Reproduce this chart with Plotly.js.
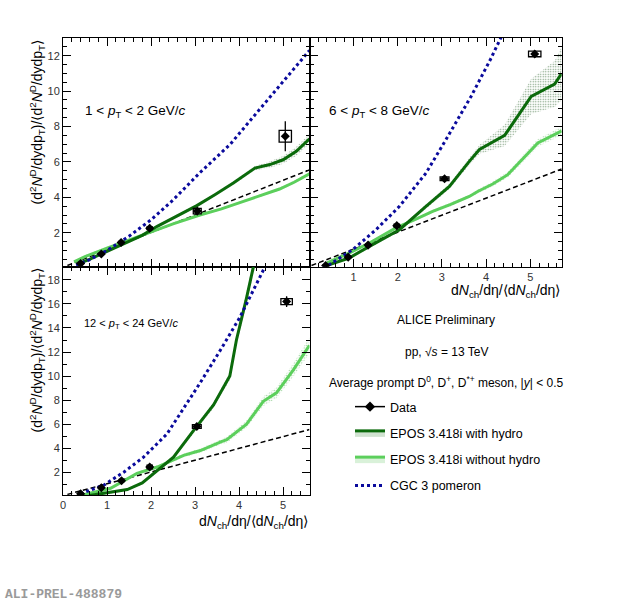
<!DOCTYPE html>
<html>
<head>
<meta charset="utf-8">
<script src="https://cdn.plot.ly/plotly-3.0.1.min.js"></script>
<style>html,body{margin:0;padding:0;background:#fff;}#chart{width:620px;height:605px;}</style>
</head>
<body>
<div id="chart"></div>
<script>
// ---------- Panel 1: 1 < pT < 2 GeV/c ----------
const p1DataX = [0.4, 0.87, 1.32, 1.97, 3.05, 5.05];
const p1DataY = [0.26, 0.8, 1.45, 2.25, 3.22, 7.45];
const p1Stat  = [0.05, 0.08, 0.1, 0.18, 0.12, 0.85];
const p1SysX  = [0.05, 0.05, 0.05, 0.06, 0.09, 0.14];
const p1SysY  = [0.04, 0.05, 0.06, 0.08, 0.16, 0.33];
const p1HydroX = [0.3, 0.6, 1.0, 1.4, 1.8, 2.14, 2.6, 3.04, 3.45, 3.87, 4.36, 4.7, 5.0, 5.3, 5.6];
const p1HydroY = [0.2, 0.5, 0.95, 1.4, 1.85, 2.36, 2.95, 3.53, 4.15, 4.81, 5.65, 5.85, 6.12, 6.6, 7.3];
const p1HydroE = [0.04, 0.05, 0.05, 0.06, 0.06, 0.07, 0.07, 0.08, 0.08, 0.1, 0.12, 0.18, 0.22, 0.25, 0.28];
const p1NoHX = [0.25, 0.5, 1.0, 1.5, 1.98, 2.5, 3.11, 3.6, 4.1, 4.5, 4.92, 5.25, 5.6];
const p1NoHY = [0.35, 0.65, 1.13, 1.58, 2.0, 2.5, 3.0, 3.35, 3.77, 4.1, 4.47, 4.85, 5.33];
const p1NoHE = [0.08, 0.08, 0.07, 0.06, 0.05, 0.05, 0.05, 0.06, 0.06, 0.07, 0.08, 0.08, 0.09];
const p1CgcX = [0.3, 0.6, 1.0, 1.5, 2.0, 2.5, 3.11, 3.8, 4.62, 5.1, 5.6];
const p1CgcY = [0.17, 0.47, 1.0, 1.8, 2.73, 3.85, 5.39, 7.0, 9.42, 10.8, 12.3];
const p1LinX = [0.1, 5.6];
const p1LinY = [0.15, 5.55];

// ---------- Panel 2: 6 < pT < 8 GeV/c ----------
const p2DataX = [0.37, 0.88, 1.33, 1.98, 3.06, 5.1];
const p2DataY = [0.15, 0.62, 1.3, 2.4, 5.05, 12.1];
const p2Stat  = [0.05, 0.08, 0.1, 0.2, 0.15, 0.2];
const p2SysX  = [0.05, 0.05, 0.05, 0.06, 0.1, 0.14];
const p2SysY  = [0.04, 0.05, 0.06, 0.08, 0.1, 0.16];
const p2HydroX = [0.34, 0.9, 1.36, 2.04, 2.64, 3.17, 3.62, 3.85, 4.42, 5.02, 5.55, 5.71];
const p2HydroY = [0.1, 0.57, 1.23, 2.17, 3.49, 4.62, 6.03, 6.7, 7.5, 9.7, 10.4, 11.0];
const p2HydroE = [0.05, 0.08, 0.1, 0.1, 0.12, 0.15, 0.2, 0.25, 0.6, 1.0, 1.3, 1.5];
const p2NoHX = [0.4, 0.9, 1.36, 1.96, 2.4, 2.79, 3.2, 3.62, 3.81, 4.15, 4.49, 4.8, 5.17, 5.71];
const p2NoHY = [0.3, 0.85, 1.42, 2.27, 2.75, 3.2, 3.6, 4.05, 4.33, 4.75, 5.28, 6.1, 7.07, 7.75];
const p2NoHE = [0.05, 0.06, 0.07, 0.08, 0.08, 0.09, 0.1, 0.1, 0.12, 0.14, 0.16, 0.2, 0.22, 0.25];
const p2CgcX = [0.3, 0.45, 0.98, 1.51, 2.04, 2.64, 3.09, 3.66, 4.1, 4.6];
const p2CgcY = [0.12, 0.19, 1.04, 2.17, 3.49, 5.37, 7.25, 9.7, 11.8, 14.4];
const p2LinX = [0.05, 5.71];
const p2LinY = [0.15, 5.6];

// ---------- Panel 3: 12 < pT < 24 GeV/c ----------
const p3DataX = [0.4, 0.87, 1.33, 1.97, 3.04, 5.08];
const p3DataY = [0.2, 0.7, 1.29, 2.43, 5.8, 16.2];
const p3Stat  = [0.05, 0.1, 0.15, 0.25, 0.3, 0.45];
const p3SysX  = [0.05, 0.05, 0.05, 0.06, 0.1, 0.13];
const p3SysY  = [0.05, 0.06, 0.1, 0.15, 0.15, 0.25];
const p3HydroX = [0.6, 1.08, 1.46, 1.8, 2.06, 2.51, 2.96, 3.42, 3.79, 3.94, 4.17, 4.35];
const p3HydroY = [0.05, 0.3, 0.55, 1.1, 1.9, 3.25, 5.44, 7.6, 10.0, 13.0, 16.5, 19.5];
const p3HydroE = [0.05, 0.08, 0.1, 0.12, 0.15, 0.15, 0.2, 0.25, 0.3, 0.4, 0.5, 0.6];
const p3NoHX = [0.45, 1.08, 1.68, 2.14, 2.74, 3.12, 3.6, 3.72, 4.17, 4.55, 4.85, 5.23, 5.6];
const p3NoHY = [0.1, 0.66, 1.9, 2.43, 3.4, 3.8, 4.55, 4.7, 6.0, 7.9, 8.6, 10.5, 12.55];
const p3NoHE = [0.05, 0.08, 0.1, 0.12, 0.15, 0.18, 0.22, 0.25, 0.3, 0.4, 0.45, 0.55, 0.65];
const p3CgcX = [0.4, 0.93, 1.38, 1.83, 2.36, 2.82, 3.11, 3.6, 4.02, 4.59, 4.8];
const p3CgcY = [0.2, 0.93, 2.0, 3.25, 5.17, 7.76, 9.4, 12.3, 14.9, 19.1, 20.5];
const p3LinX = [0.1, 5.6];
const p3LinY = [0.15, 5.55];

// ---------- Labels ----------
const yTitle = '(d<sup>2</sup><i>N</i><sup>D</sup>/dydp<sub>T</sub>)/⟨d<sup>2</sup><i>N</i><sup>D</sup>/dydp<sub>T</sub>⟩';
const xTitle = 'd<i>N</i><sub>ch</sub>/dη/⟨d<i>N</i><sub>ch</sub>/dη⟩';
const panelLabels = ['1 < <i>p</i><sub>T</sub> < 2 GeV/<i>c</i>', '6 < <i>p</i><sub>T</sub> < 8 GeV/<i>c</i>', '12 < <i>p</i><sub>T</sub> < 24 GeV/<i>c</i>'];
const legendNames = ['Data', 'EPOS 3.418i with hydro', 'EPOS 3.418i without hydro', 'CGC 3 pomeron'];
const infoLines = ['ALICE Preliminary', 'pp, √<i>s</i> = 13 TeV', 'Average prompt D<sup>0</sup>, D<sup>+</sup>, D<sup>*+</sup> meson, |<i>y</i>| < 0.5'];
const prelimTag = 'ALI-PREL-488879';

// ---------- Styles ----------
const FONT = 'Liberation Sans, Arial, Helvetica, sans-serif';
const DARK = '#0b6a0b';
const LIGHT = '#5ccf5c';
const BLUE = '#0a0a9c';
const W = 620, H = 605;
const px = v => v / W;
const py = v => 1 - v / H;

function band(x, y, e, xa, ya, fg) {
  const bx = x.concat(x.slice().reverse());
  const by = x.map((_, i) => y[i] + e[i]).concat(x.map((_, i) => y[i] - e[i]).reverse());
  return {x: bx, y: by, xaxis: xa, yaxis: ya, mode: 'lines', line: {width: 0}, fill: 'toself',
    fillcolor: 'rgba(0,0,0,0)', fillpattern: {shape: '.', fgcolor: fg, bgcolor: 'rgba(255,255,255,0)', size: 2.5, solidity: 0.25},
    showlegend: false, hoverinfo: 'skip'};
}
function line(x, y, xa, ya, color, width, dash) {
  return {x: x, y: y, xaxis: xa, yaxis: ya, mode: 'lines', line: {color: color, width: width, dash: dash || 'solid'}, showlegend: false, hoverinfo: 'skip'};
}
function data(x, y, e, xa, ya) {
  return {x: x, y: y, xaxis: xa, yaxis: ya, mode: 'markers', marker: {symbol: 'diamond', color: '#000', size: 7},
    error_y: {type: 'data', array: e, color: '#000', thickness: 1.3, width: 0}, showlegend: false, hoverinfo: 'skip'};
}
function panel(xa, ya, d) {
  return [
    band(d.hx, d.hy, d.he, xa, ya, 'rgba(60,110,60,0.7)'),
    band(d.nx, d.ny, d.ne, xa, ya, 'rgba(110,190,110,0.7)'),
    line(d.lx, d.ly, xa, ya, '#000', 1.5, '5px,3px'),
    line(d.nx, d.ny, xa, ya, LIGHT, 3),
    line(d.hx, d.hy, xa, ya, DARK, 3),
    line(d.cx, d.cy, xa, ya, BLUE, 3, 'dot'),
    data(d.dx, d.dy, d.de, xa, ya)
  ];
}
function boxes(x, y, sx, sy, xr, yr) {
  return x.map((v, i) => ({type: 'rect', xref: xr, yref: yr, x0: v - sx[i], x1: v + sx[i], y0: y[i] - sy[i], y1: y[i] + sy[i],
    line: {color: '#000', width: 1.3}, fillcolor: 'rgba(0,0,0,0)', layer: 'above'}));
}

const traces = [].concat(
  panel('x', 'y', {hx: p1HydroX, hy: p1HydroY, he: p1HydroE, nx: p1NoHX, ny: p1NoHY, ne: p1NoHE, cx: p1CgcX, cy: p1CgcY, lx: p1LinX, ly: p1LinY, dx: p1DataX, dy: p1DataY, de: p1Stat}),
  panel('x2', 'y2', {hx: p2HydroX, hy: p2HydroY, he: p2HydroE, nx: p2NoHX, ny: p2NoHY, ne: p2NoHE, cx: p2CgcX, cy: p2CgcY, lx: p2LinX, ly: p2LinY, dx: p2DataX, dy: p2DataY, de: p2Stat}),
  panel('x3', 'y3', {hx: p3HydroX, hy: p3HydroY, he: p3HydroE, nx: p3NoHX, ny: p3NoHY, ne: p3NoHE, cx: p3CgcX, cy: p3CgcY, lx: p3LinX, ly: p3LinY, dx: p3DataX, dy: p3DataY, de: p3Stat})
);

// legend entries
traces.push({x: [null], y: [null], name: legendNames[0], legendgroup: 'a', mode: 'lines+markers', line: {color: '#000', width: 1.5}, marker: {symbol: 'diamond', color: '#000', size: 8}});
traces.push({x: [null], y: [null], name: legendNames[1], legendgroup: 'b', mode: 'lines', line: {color: DARK, width: 3}, fill: 'toself', fillcolor: 'rgba(150,190,150,0.45)'});
traces.push({x: [null], y: [null], name: legendNames[2], legendgroup: 'c', mode: 'lines', line: {color: LIGHT, width: 3}, fill: 'toself', fillcolor: 'rgba(170,225,170,0.45)'});
traces.push({x: [null], y: [null], name: legendNames[3], legendgroup: 'd', mode: 'lines', line: {color: BLUE, width: 3, dash: 'dot'}});

const tickFont = {family: FONT, size: 11, color: '#333'};
function axis(extra) {
  return Object.assign({
    showline: true, linecolor: '#000', linewidth: 1, mirror: 'ticks', ticks: 'inside', ticklen: 8, tickcolor: '#000',
    tickwidth: 1, showgrid: false, zeroline: false, tickfont: tickFont, fixedrange: true
  }, extra);
}

const xDomL = [px(63), px(309.5)];
const xDomR = [px(309.5), px(561.7)];
const yDomT = [py(266.7), py(38)];
const yDomB = [py(495), py(266.7)];

const layout = {
  width: W, height: H,
  margin: {l: 0, r: 0, t: 0, b: 0},
  paper_bgcolor: '#fff', plot_bgcolor: '#fff',
  font: {family: FONT, color: '#000'},
  xaxis: axis({domain: xDomL, range: [0, 5.6], anchor: 'y', dtick: 1, showticklabels: false, minor: {dtick: 0.2, ticklen: 4, tickcolor: '#000', ticks: 'inside'}}),
  yaxis: axis({domain: yDomT, range: [0.08, 13.0], anchor: 'x', dtick: 2, tick0: 0, minor: {dtick: 0.5, ticklen: 4, tickcolor: '#000', ticks: 'inside'}}),
  xaxis2: axis({domain: xDomR, range: [0.005, 5.71], anchor: 'y2', dtick: 1, minor: {dtick: 0.2, tick0: 0, ticklen: 4, tickcolor: '#000', ticks: 'inside'}}),
  yaxis2: axis({domain: yDomT, range: [0.08, 13.0], anchor: 'x2', dtick: 2, tick0: 0, showticklabels: false, minor: {dtick: 0.5, ticklen: 4, tickcolor: '#000', ticks: 'inside'}}),
  xaxis3: axis({domain: xDomL, range: [0, 5.6], anchor: 'y3', dtick: 1, minor: {dtick: 0.2, ticklen: 4, tickcolor: '#000', ticks: 'inside'}}),
  yaxis3: axis({domain: yDomB, range: [0.1, 19.1], anchor: 'x3', dtick: 2, tick0: 0, minor: {dtick: 1, ticklen: 4, tickcolor: '#000', ticks: 'inside'}}),
  showlegend: true,
  legend: {x: px(350), y: py(392), xanchor: 'left', yanchor: 'top', bgcolor: 'rgba(0,0,0,0)', borderwidth: 0,
    font: {family: FONT, size: 12.5, color: '#000'}, traceorder: 'grouped', tracegroupgap: 7, itemwidth: 30},
  shapes: [].concat(
    boxes(p1DataX, p1DataY, p1SysX, p1SysY, 'x', 'y'),
    boxes(p2DataX, p2DataY, p2SysX, p2SysY, 'x2', 'y2'),
    boxes(p3DataX, p3DataY, p3SysX, p3SysY, 'x3', 'y3')
  ),
  annotations: [
    {text: yTitle, xref: 'paper', yref: 'paper', x: px(37), y: py(38), xanchor: 'center', yanchor: 'top', textangle: -90, showarrow: false, font: {size: 14}},
    {text: yTitle, xref: 'paper', yref: 'paper', x: px(37), y: py(266), xanchor: 'center', yanchor: 'top', textangle: -90, showarrow: false, font: {size: 14}},
    {text: xTitle, xref: 'paper', yref: 'paper', x: px(561.7), y: py(291), xanchor: 'right', yanchor: 'middle', showarrow: false, font: {size: 14}},
    {text: xTitle, xref: 'paper', yref: 'paper', x: px(310), y: py(522), xanchor: 'right', yanchor: 'middle', showarrow: false, font: {size: 14}},
    {text: panelLabels[0], xref: 'paper', yref: 'paper', x: px(83), y: py(112), xanchor: 'left', yanchor: 'middle', showarrow: false, font: {size: 13.5}},
    {text: panelLabels[1], xref: 'paper', yref: 'paper', x: px(327), y: py(112), xanchor: 'left', yanchor: 'middle', showarrow: false, font: {size: 13.5}},
    {text: panelLabels[2], xref: 'paper', yref: 'paper', x: px(82), y: py(324), xanchor: 'left', yanchor: 'middle', showarrow: false, font: {size: 11}},
    {text: infoLines[0], xref: 'paper', yref: 'paper', x: px(446), y: py(320), xanchor: 'center', yanchor: 'middle', showarrow: false, font: {size: 12}},
    {text: infoLines[1], xref: 'paper', yref: 'paper', x: px(446), y: py(352), xanchor: 'center', yanchor: 'middle', showarrow: false, font: {size: 12}},
    {text: infoLines[2], xref: 'paper', yref: 'paper', x: px(446), y: py(382), xanchor: 'center', yanchor: 'middle', showarrow: false, font: {size: 12}},
    {text: '<b>' + prelimTag + '</b>', xref: 'paper', yref: 'paper', x: px(3), y: py(594), xanchor: 'left', yanchor: 'middle', showarrow: false, font: {family: 'Liberation Mono, Courier New, monospace', size: 13, color: '#9a9a9a'}}
  ]
};

Plotly.newPlot('chart', traces, layout, {staticPlot: true, displayModeBar: false});
</script>
</body>
</html>
